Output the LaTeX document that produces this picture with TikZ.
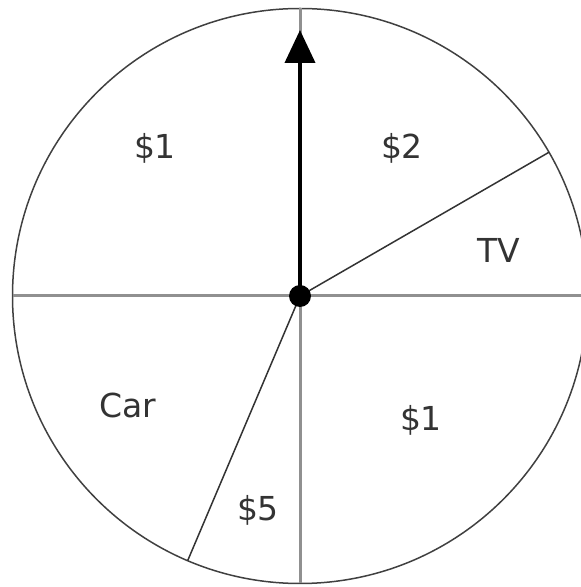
\documentclass[tikz,border=0pt]{standalone}
\usepackage{fontspec}
\setmainfont{DejaVu Sans}
\usepackage{xcolor}
\usepackage{tikz}
\usetikzlibrary{
  arrows.meta,
  positioning
}

\definecolor{rimgray}{HTML}{404040}
\definecolor{axisgray}{HTML}{909090}
\definecolor{labelgray}{HTML}{333333}

\begin{document}
\begin{tikzpicture}[
  x=1pt, y=1pt,
  wheel/.style={circle, draw=rimgray, line width=1.5pt, minimum size=575pt,
                inner sep=0pt, outer sep=0pt},
  axisline/.style={draw=axisgray, line width=3pt},
  spoke/.style={draw=labelgray, line width=1.5pt},
  pointer/.style={draw=black, line width=4pt,
                  -{Triangle[length=33pt, width=30pt]}},
  hub/.style={circle, fill=black, minimum size=22pt, inner sep=0pt},
  prize/.style={text=labelgray, font=\fontsize{33}{40}\selectfont, inner sep=0pt}
]
\clip (0,0) rectangle (581,587);
\coordinate (c) at (300,291);
\node[wheel] (wheel) at (c) {};

% dividing lines
\draw[axisline] (wheel.180) -- (wheel.0);
\draw[axisline] (wheel.90) -- (wheel.270);
\draw[spoke] (c) -- (wheel.30);
\draw[spoke] (c) -- (wheel.247);

% pointer
\coordinate (tip) at (300,557);
\draw[pointer] (c) -- (tip);
\node[hub] (hub) at (c) {};

% prizes
\node[prize] (p1a) at (155,439) {\$1};
\node[prize] (p2)  at (402,439) {\$2};
\node[prize] (tv)  at (499,337) {TV};
\node[prize] (car) at (128,182) {Car};
\node[prize] (p1b) at (421,167) {\$1};
\node[prize] (p5)  at (258,77)  {\$5};
\end{tikzpicture}
\end{document}
